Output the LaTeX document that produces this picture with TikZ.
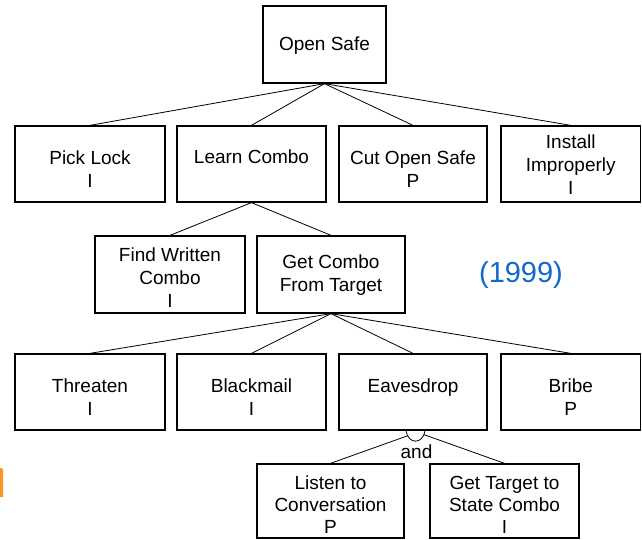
\documentclass[tikz,border=0pt]{standalone}
\usepackage{fontspec}
\setmainfont{Liberation Sans}
\definecolor{yearblue}{RGB}{18,102,204}
\definecolor{accorange}{RGB}{250,150,40}
\begin{document}
\begin{tikzpicture}[x=1pt,y=-1pt,
  box/.style={draw=black, line width=1.3pt, inner sep=0pt, minimum width=#1, minimum height=76pt},
  box/.default=148pt,
  lbl/.style={inner sep=0pt, align=center, font=\fontsize{19}{23}\selectfont},
  lblb/.style={inner sep=0pt, align=center, font=\fontsize{19}{22}\selectfont},
  one/.style={text height=13.6pt, text depth=0pt},
  conn/.style={draw=black, line width=0.8pt}
]
\useasboundingbox (0,0) rectangle (642,540);
\fill[accorange] (0,468) -- (0,497) -- (3,497) -- (3,471) .. controls (3,469) .. (1,468) -- cycle;

% boxes
\node[box=123pt, minimum height=77pt] (open) at (324.5,44.5) {};
\node[box=150pt] (pick) at (90,164) {};
\node[box=149pt] (learn) at (251.5,164) {};
\node[box=148pt] (cut) at (413,164) {};
\node[box=139.5pt] (install) at (570.75,164) {};
\node[box=150pt, minimum height=77pt] (find) at (170,274.5) {};
\node[box=148pt, minimum height=77pt] (getc) at (331,274.5) {};
\node[box=150pt] (threat) at (90,392) {};
\node[box=149pt] (black) at (251.5,392) {};
\node[box=148pt] (eaves) at (413,392) {};
\node[box=139.5pt] (bribe) at (570.75,392) {};
\node[box=147pt, minimum height=74pt] (listen) at (330.5,501) {};
\node[box=149pt, minimum height=74pt] (target) at (504.5,501) {};

% texts
\node[lbl, one] (openT) at (324.5,44) {Open Safe};
\node[lbl] (pickT) at (90,169) {Pick Lock\\I};
\node[lbl, one] (learnT) at (251.5,157) {Learn Combo};
\node[lbl] (cutT) at (413,169) {Cut Open Safe\\P};
\node[lbl] (installT) at (570.75,165) {Install\\Improperly\\I};
\node[lbl] (findT) at (170,278) {Find Written\\Combo\\I};
\node[lbl] (getcT) at (331,275) {Get Combo\\From Target};
\node[lbl] (threatT) at (90,397.5) {Threaten\\I};
\node[lbl] (blackT) at (251.5,397.5) {Blackmail\\I};
\node[lbl, one] (eavesT) at (413,386) {Eavesdrop};
\node[lbl] (bribeT) at (570.75,397.5) {Bribe\\P};
\node[lblb] (listenT) at (330.5,505) {Listen to\\Conversation\\P};
\node[lblb] (targetT) at (504.5,505) {Get Target to\\State Combo\\I};
\node[lbl, one] (andT) at (416.5,452) {and};
\node[inner sep=0pt, text height=20.8pt, text depth=0pt, font=\fontsize{29}{34}\selectfont, text=yearblue] (year) at (521,272) {(1999)};

% connectors
\foreach \t in {pick,learn,cut,install} \draw[conn] (open.south) -- (\t.north);
\foreach \t in {find,getc} \draw[conn] (learn.south) -- (\t.north);
\foreach \t in {threat,black,eaves,bribe} \draw[conn] (getc.south) -- (\t.north);

% and gate
\draw[line width=0.8pt] ([xshift=-7pt]eaves.south) .. controls ([xshift=-5pt,yshift=-14pt]eaves.south) and ([xshift=10pt,yshift=-14pt]eaves.south) .. ([xshift=12pt]eaves.south);
\coordinate (gl) at ([xshift=-5pt,yshift=-5pt]eaves.south);
\coordinate (gr) at ([xshift=11pt,yshift=-4pt]eaves.south);
\draw[conn] (gl) -- (listen.north);
\draw[conn] (gr) -- (target.north);
\end{tikzpicture}
\end{document}
